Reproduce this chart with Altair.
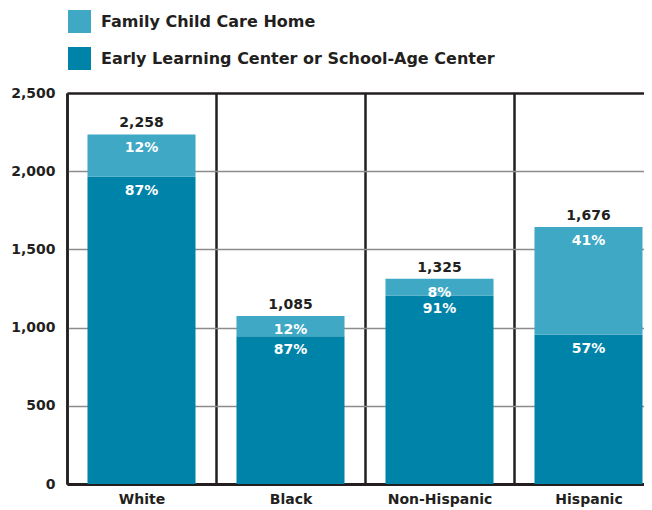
import altair as alt
import pandas as pd

categories = ["White", "Black", "Non-Hispanic", "Hispanic"]
totals = [2258, 1085, 1325, 1676]
early_pct = [87, 87, 91, 57]
family_pct = [12, 12, 8, 41]

EARLY = "Early Learning Center or School-Age Center"
FAMILY = "Family Child Care Home"
DARK = "#0083a8"
LIGHT = "#3ea8c5"
INK = "#231f20"
FONT = "DejaVu Sans"

rows = []
pct_rows = []
tot_rows = []
for c, t, pe, pf in zip(categories, totals, early_pct, family_pct):
    rows.append({"category": c, "type": EARLY, "value": t * pe / 100, "ord": 0})
    rows.append({"category": c, "type": FAMILY, "value": t * pf / 100, "ord": 1})
    pct_rows.append({"category": c, "seg_top": t * pe / 100, "label": f"{pe}%"})
    pct_rows.append({"category": c, "seg_top": t * (pe + pf) / 100, "label": f"{pf}%"})
    tot_rows.append({"category": c, "top": t * (pe + pf) / 100, "label": f"{t:,}"})

bars_df = pd.DataFrame(rows)
pct_df = pd.DataFrame(pct_rows)
tot_df = pd.DataFrame(tot_rows)

x_enc = alt.X(
    "category:N",
    sort=categories,
    title=None,
    scale=alt.Scale(range=[0, 596], paddingInner=0, paddingOuter=0),
    axis=alt.Axis(
        labelAngle=0, grid=True, tickBand="extent", gridColor=INK, gridWidth=2.5,
        domainColor=INK, domainWidth=3, ticks=False, labelFont=FONT,
        labelFontSize=14, labelFontWeight="bold", labelColor=INK, labelPadding=8,
    ),
)
x_plain = alt.X("category:N", sort=categories, title=None)

y_enc = alt.Y(
    "value:Q",
    stack=True,
    title=None,
    scale=alt.Scale(domain=[0, 2500], nice=False),
    axis=alt.Axis(
        values=[0, 500, 1000, 1500, 2000, 2500], format=",.0f", ticks=False,
        labelPadding=12, labelFont=FONT, labelFontSize=14, labelFontWeight="bold",
        labelColor=INK, domainColor=INK, domainWidth=2.5,
        gridColor={"condition": {"test": "datum.value == 2500", "value": INK}, "value": "#8c8c8c"},
        gridWidth={"condition": {"test": "datum.value == 2500", "value": 2.5}, "value": 1.5},
    ),
)

bars = alt.Chart(bars_df).mark_bar(width={"band": 0.725}).encode(
    x=x_enc,
    y=y_enc,
    color=alt.Color(
        "type:N",
        scale=alt.Scale(domain=[FAMILY, EARLY], range=[LIGHT, DARK]),
        legend=alt.Legend(
            orient="none", legendX=1, legendY=-83, title=None, direction="vertical",
            symbolType="square", symbolSize=529, symbolStrokeWidth=0,
            labelFont=FONT, labelFontSize=16, labelFontWeight="bold", labelColor=INK,
            rowPadding=14, labelOffset=10, padding=0, labelLimit=0,
        ),
    ),
    order=alt.Order("ord:Q"),
)

pct_text = alt.Chart(pct_df).mark_text(
    baseline="middle", dy=14, color="white", font=FONT, fontSize=14, fontWeight="bold"
).encode(
    x=x_plain,
    y=alt.Y("seg_top:Q", title=None),
    text="label:N",
)

tot_text = alt.Chart(tot_df).mark_text(
    baseline="bottom", dy=-4, color=INK, font=FONT, fontSize=14, fontWeight="bold"
).encode(
    x=x_plain,
    y=alt.Y("top:Q", title=None),
    text="label:N",
)

chart = alt.layer(bars, pct_text, tot_text).properties(
    width=577,
    height=391,
    autosize=alt.AutoSizeParams(type="none"),
    padding={"left": 59, "top": 85, "right": 0, "bottom": 26},
).configure_view(stroke=None).configure(font=FONT)

chart.save("out.html", embed_options={"renderer": "svg", "actions": False})
